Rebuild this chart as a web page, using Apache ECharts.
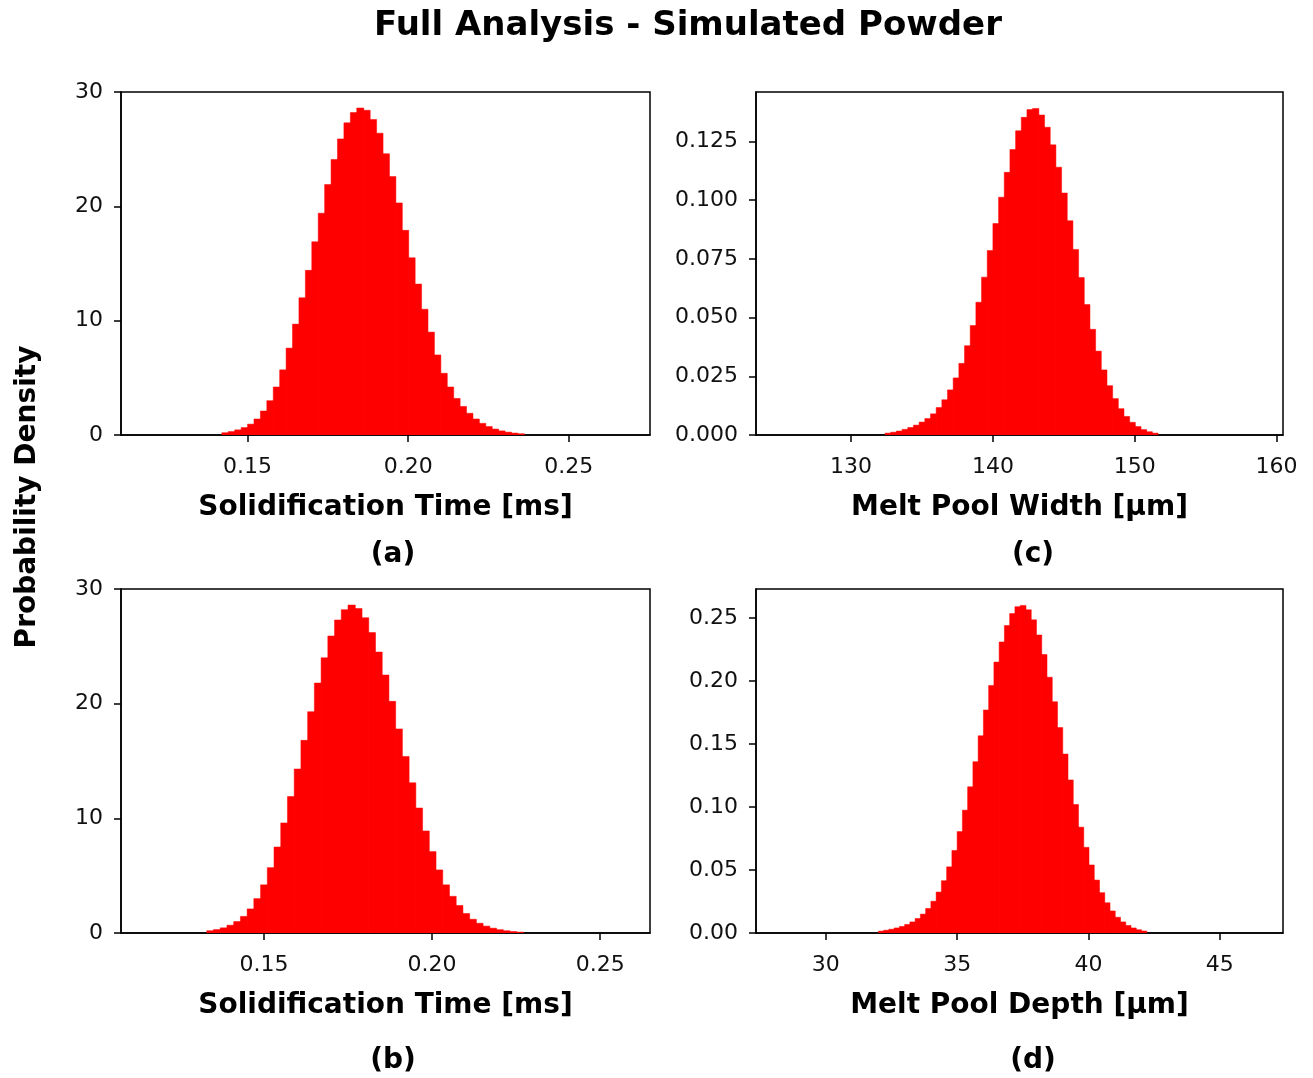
<!DOCTYPE html>
<html>
<head>
<meta charset="utf-8">
<title>Full Analysis - Simulated Powder</title>
<script src="https://cdn.jsdelivr.net/npm/echarts@6/dist/echarts.min.js"></script>
<style>
	* { margin: 0; padding: 0; }
	body { background: #fff; }
	#main { width: 1313px; height: 1078px; }
</style>
</head>
<body>
<div id="main"></div>
<script>
// (a) solidification time, first bin edge + bin width [ms], density per bin
var solidA_start = 0.142, solidA_width = 0.002;
var solidA_density = [0.2, 0.3, 0.45, 0.65, 0.95, 1.4, 2.1, 3.0, 4.2, 5.7, 7.6, 9.7, 12.0, 14.4, 16.9, 19.4,
	21.9, 24.1, 25.9, 27.3, 28.2, 28.6, 28.4, 27.6, 26.4, 24.6, 22.6, 20.3, 17.9, 15.5, 13.2, 11.0,
	9.0, 7.0, 5.4, 4.2, 3.2, 2.5, 1.9, 1.4, 1.02, 0.74, 0.52, 0.36, 0.25, 0.17, 0.11];

// (b) solidification time
var solidB_start = 0.133, solidB_width = 0.002;
var solidB_density = [0.2, 0.3, 0.45, 0.68, 1.0, 1.45, 2.1, 3.0, 4.2, 5.7, 7.5, 9.6, 11.9, 14.3, 16.8, 19.3,
	21.8, 24.0, 25.9, 27.3, 28.2, 28.6, 28.3, 27.5, 26.2, 24.5, 22.5, 20.2, 17.8, 15.4, 13.1, 10.9,
	8.9, 7.1, 5.5, 4.2, 3.2, 2.4, 1.7, 1.2, 0.85, 0.6, 0.42, 0.29, 0.2, 0.13, 0.08];

// (c) melt pool width [um]
var widthC_start = 132.4, widthC_width = 0.4;
var widthC_density = [0.0008, 0.0012, 0.0017, 0.0024, 0.0032, 0.0042, 0.0055, 0.0070, 0.0090, 0.0117,
	0.0150, 0.0192, 0.0243, 0.0305, 0.0380, 0.0466, 0.0565, 0.0672, 0.0785, 0.0900, 0.1012, 0.1118,
	0.1215, 0.1295, 0.1352, 0.1385, 0.1390, 0.1362, 0.1310, 0.1235, 0.1140, 0.1030, 0.0912, 0.0790,
	0.0670, 0.0555, 0.0450, 0.0357, 0.0277, 0.0210, 0.0155, 0.0112, 0.0079, 0.0054, 0.0036, 0.0023,
	0.0014, 0.0008];

// (d) melt pool depth [um]
var depthD_start = 32.0, depthD_width = 0.2;
var depthD_density = [0.0015, 0.0022, 0.0030, 0.0040, 0.0052, 0.0068, 0.0088, 0.0115, 0.0150, 0.0195,
	0.0252, 0.0325, 0.0415, 0.0525, 0.0655, 0.0805, 0.0975, 0.1160, 0.1360, 0.1565, 0.1770, 0.1965,
	0.2150, 0.2310, 0.2440, 0.2535, 0.2590, 0.2600, 0.2565, 0.2485, 0.2365, 0.2210, 0.2030, 0.1835,
	0.1630, 0.1420, 0.1215, 0.1020, 0.0840, 0.0680, 0.0540, 0.0420, 0.0320, 0.0240, 0.0175, 0.0125,
	0.0088, 0.0060, 0.0040, 0.0026, 0.0016];

// tick labels
var timeTicks = [0.15, 0.20, 0.25];
var widthTicks = [130, 140, 150, 160];
var depthTicks = [30, 35, 40, 45];
var timeDensityTicks = [0, 10, 20, 30];
var widthDensityTicks = [0, 0.025, 0.05, 0.075, 0.1, 0.125];
var depthDensityTicks = [0, 0.05, 0.1, 0.15, 0.2, 0.25];

var FONT = 'DejaVu Sans';
var myChart = echarts.init(document.getElementById('main'));

function toBins(start, width, vals) {
	var out = [];
	for (var i = 0; i < vals.length; i++) {
		out.push([start + i * width, start + (i + 1) * width, vals[i]]);
	}
	return out;
}

function makeGrid(left, top, width, height) {
	return { left: left, top: top, width: width, height: height, show: true,
		borderColor: '#000', borderWidth: 1.5, backgroundColor: '#fff' };
}

function makeAxis(type, idx, min, max, ticks, digits, name) {
	var ax = {
		type: 'value', gridIndex: idx, min: min, max: max,
		splitLine: { show: false },
		axisLine: { show: true, onZero: false, lineStyle: { color: '#000', width: 1.5 } },
		axisTick: { show: true, length: 7, customValues: ticks, lineStyle: { color: '#000', width: 1.5 } },
		axisLabel: {
			customValues: ticks, color: '#111', fontFamily: FONT, fontSize: 22,
			margin: type === 'x' ? 21 : 18,
			formatter: function (v) { return v.toFixed(digits); }
		}
	};
	if (name) {
		ax.name = name;
		ax.nameLocation = 'middle';
		ax.nameGap = 59;
		ax.nameTextStyle = { fontFamily: FONT, fontWeight: 'bold', fontSize: 28, color: '#000' };
	}
	return ax;
}

function histSeries(idx, data) {
	return {
		type: 'custom', xAxisIndex: idx, yAxisIndex: idx, clip: true,
		encode: { x: [0, 1], y: 2 },
		data: data,
		renderItem: function (params, api) {
			var p0 = api.coord([api.value(0), api.value(2)]);
			var p1 = api.coord([api.value(1), 0]);
			return {
				type: 'rect',
				shape: { x: p0[0], y: p0[1], width: p1[0] - p0[0] + 0.6, height: p1[1] - p0[1] },
				style: { fill: '#ff0000', stroke: '#ff0000', lineWidth: 0.5 }
			};
		}
	};
}

var labelStyle = { fontFamily: FONT, fontWeight: 'bold', fontSize: 28, color: '#000' };

var option = {
	animation: false,
	backgroundColor: '#fff',
	title: [
		{ text: 'Full Analysis - Simulated Powder', left: 683, top: 4, textAlign: 'center',
			textStyle: { fontFamily: FONT, fontWeight: 'bold', fontSize: 34, color: '#000' } },
		{ text: '(a)', left: 388, top: 536, textAlign: 'center', textStyle: labelStyle },
		{ text: '(c)', left: 1028, top: 536, textAlign: 'center', textStyle: labelStyle },
		{ text: '(b)', left: 388, top: 1042, textAlign: 'center', textStyle: labelStyle },
		{ text: '(d)', left: 1028, top: 1042, textAlign: 'center', textStyle: labelStyle }
	],
	graphic: [{
		type: 'text', x: 28, y: 497, rotation: Math.PI / 2,
		style: { text: 'Probability Density', fontFamily: FONT, fontWeight: 'bold', fontSize: 28,
			fill: '#000', align: 'center', verticalAlign: 'middle' }
	}],
	grid: [
		makeGrid(121, 92, 529, 343),
		makeGrid(756, 92, 527, 343),
		makeGrid(121, 589, 529, 344),
		makeGrid(756, 589, 527, 344)
	],
	xAxis: [
		makeAxis('x', 0, 0.1106, 0.2753, timeTicks, 2, 'Solidification Time [ms]'),
		makeAxis('x', 1, 123.3, 160.45, widthTicks, 0, 'Melt Pool Width [µm]'),
		makeAxis('x', 2, 0.1075, 0.2648, timeTicks, 2, 'Solidification Time [ms]'),
		makeAxis('x', 3, 27.34, 47.41, depthTicks, 0, 'Melt Pool Depth [µm]')
	],
	yAxis: [
		makeAxis('y', 0, 0, 30, timeDensityTicks, 0),
		makeAxis('y', 1, 0, 0.146, widthDensityTicks, 3),
		makeAxis('y', 2, 0, 30, timeDensityTicks, 0),
		makeAxis('y', 3, 0, 0.273, depthDensityTicks, 2)
	],
	series: [
		histSeries(0, toBins(solidA_start, solidA_width, solidA_density)),
		histSeries(1, toBins(widthC_start, widthC_width, widthC_density)),
		histSeries(2, toBins(solidB_start, solidB_width, solidB_density)),
		histSeries(3, toBins(depthD_start, depthD_width, depthD_density))
	]
};
myChart.setOption(option);
</script>
</body>
</html>
